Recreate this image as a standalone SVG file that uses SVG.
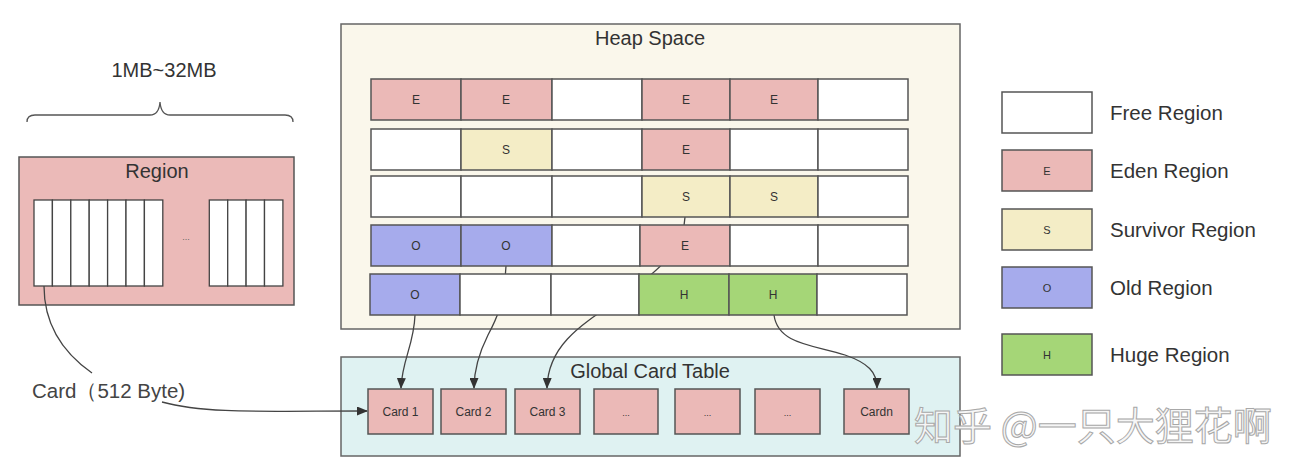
<svg xmlns="http://www.w3.org/2000/svg" width="1298" height="464" viewBox="0 0 1298 464">
<style>
text{font-family:"Liberation Sans",Arial,sans-serif;fill:#333}
.ttl{font-size:20px;text-anchor:middle}
.lg{font-size:20.5px}
.cl{font-size:12px;text-anchor:middle}
.cell{stroke:#555;stroke-width:1.5}
.fr{fill:#fff}.e{fill:#ebb9b7}.s{fill:#f4edc6}.o{fill:#a6abec}.h{fill:#a5d677}
.strip{fill:#fff;stroke:#444;stroke-width:1.3}
.con{fill:none;stroke:#444;stroke-width:1.3}
.card{fill:#ebb9b7;stroke:#555;stroke-width:1.5}
.wm{font-family:"Noto Sans CJK SC","Liberation Sans",sans-serif;font-size:39px;fill:#f6f6f6;stroke:#a8a8a8;stroke-width:1}
</style>
<defs>
<marker id="arr" markerUnits="userSpaceOnUse" markerWidth="11" markerHeight="9" refX="10" refY="4.5" orient="auto">
<path d="M0,0 L11,4.5 L0,9 Z" fill="#333"/>
</marker>
</defs>
<rect width="1298" height="464" fill="#fff"/>

<g id="size-label">
<text x="164" y="77" style="font-size:20px;text-anchor:middle">1MB~32MB</text>
<path d="M27,122 Q27,115 35,115 L150,115 Q159,115 160,102 Q161,115 170,115 L285,115 Q293,115 293,122" fill="none" stroke="#555" stroke-width="1.3"/>
</g>

<g id="region">
<rect x="19" y="157" width="275" height="148" fill="#ebbab8" stroke="#555" stroke-width="1.5"/>
<text x="157" y="178" class="ttl">Region</text>
<rect x="34" y="200" width="18.4" height="86" class="strip"/>
<rect x="52.4" y="200" width="18.4" height="86" class="strip"/>
<rect x="70.8" y="200" width="18.4" height="86" class="strip"/>
<rect x="89.2" y="200" width="18.4" height="86" class="strip"/>
<rect x="107.6" y="200" width="18.4" height="86" class="strip"/>
<rect x="126" y="200" width="18.4" height="86" class="strip"/>
<rect x="144.4" y="200" width="18.4" height="86" class="strip"/>
<text x="186" y="240" style="font-size:9px;text-anchor:middle;fill:#666">...</text>
<rect x="209.3" y="200" width="18.4" height="86" class="strip"/>
<rect x="227.7" y="200" width="18.4" height="86" class="strip"/>
<rect x="246.1" y="200" width="18.4" height="86" class="strip"/>
<rect x="264.5" y="200" width="18.4" height="86" class="strip"/>
</g>

<g id="card-label">
<text x="32" y="398" style="font-size:20.5px;fill:#444">Card（512 Byte)</text>
</g>

<g id="heap-space">
<rect x="341" y="24" width="619" height="305" fill="#faf7eb" stroke="#666" stroke-width="1.5"/>
<text x="650" y="45" class="ttl">Heap Space</text>
</g>

<g id="global-card-table">
<rect x="341" y="357" width="619" height="99" fill="#dff2f2" stroke="#666" stroke-width="1.5"/>
<text x="650" y="378" class="ttl">Global Card Table</text>
</g>

<g id="connectors">
<path class="con" d="M44,286 C44,325 62,352 92,373"/>
<path class="con" d="M162,402 C205,414 265,411 367,411" marker-end="url(#arr)"/>
<path class="con" d="M415,315 C414,345 402,360 401,388" marker-end="url(#arr)"/>
<path class="con" d="M506,266 C504,305 496,320 488,335 C478,355 474,370 474,388" marker-end="url(#arr)"/>
<path class="con" d="M685,217 C684,250 660,268 630,292 C590,320 548,340 547,388" marker-end="url(#arr)"/>
<path class="con" d="M774,315 C778,345 815,345 845,355 C868,363 877,372 877,388" marker-end="url(#arr)"/>
</g>

<g id="heap-regions">
<g id="row1">
<rect x="371" y="79" width="90" height="41" class="cell e"/><text x="416" y="104" class="cl">E</text>
<rect x="461" y="79" width="91" height="41" class="cell e"/><text x="506" y="104" class="cl">E</text>
<rect x="552" y="79" width="90" height="41" class="cell fr"/>
<rect x="642" y="79" width="88" height="41" class="cell e"/><text x="686" y="104" class="cl">E</text>
<rect x="730" y="79" width="88" height="41" class="cell e"/><text x="774" y="104" class="cl">E</text>
<rect x="818" y="79" width="90" height="41" class="cell fr"/>
</g>
<g id="row2">
<rect x="371" y="129" width="90" height="41" class="cell fr"/>
<rect x="461" y="129" width="91" height="41" class="cell s"/><text x="506" y="154" class="cl">S</text>
<rect x="552" y="129" width="90" height="41" class="cell fr"/>
<rect x="642" y="129" width="88" height="41" class="cell e"/><text x="686" y="154" class="cl">E</text>
<rect x="730" y="129" width="88" height="41" class="cell fr"/>
<rect x="818" y="129" width="90" height="41" class="cell fr"/>
</g>
<g id="row3">
<rect x="371" y="176" width="90" height="41" class="cell fr"/>
<rect x="461" y="176" width="91" height="41" class="cell fr"/>
<rect x="552" y="176" width="90" height="41" class="cell fr"/>
<rect x="642" y="176" width="88" height="41" class="cell s"/><text x="686" y="201" class="cl">S</text>
<rect x="730" y="176" width="88" height="41" class="cell s"/><text x="774" y="201" class="cl">S</text>
<rect x="818" y="176" width="90" height="41" class="cell fr"/>
</g>
<g id="row4">
<rect x="371" y="225" width="90" height="41" class="cell o"/><text x="416" y="250" class="cl">O</text>
<rect x="461" y="225" width="91" height="41" class="cell o"/><text x="506" y="250" class="cl">O</text>
<rect x="552" y="225" width="88" height="41" class="cell fr"/>
<rect x="640" y="225" width="90" height="41" class="cell e"/><text x="685" y="250" class="cl">E</text>
<rect x="730" y="225" width="88" height="41" class="cell fr"/>
<rect x="818" y="225" width="90" height="41" class="cell fr"/>
</g>
<g id="row5">
<rect x="370" y="274" width="90" height="41" class="cell o"/><text x="415" y="299" class="cl">O</text>
<rect x="460" y="274" width="91" height="41" class="cell fr"/>
<rect x="551" y="274" width="88" height="41" class="cell fr"/>
<rect x="639" y="274" width="90" height="41" class="cell h"/><text x="684" y="299" class="cl">H</text>
<rect x="729" y="274" width="88" height="41" class="cell h"/><text x="773" y="299" class="cl">H</text>
<rect x="817" y="274" width="90" height="41" class="cell fr"/>
</g>
</g>

<g id="cards">
<g id="card1"><rect x="368" y="389" width="65" height="45" class="card"/><text x="400.5" y="416" class="cl">Card 1</text></g>
<g id="card2"><rect x="441" y="389" width="65" height="45" class="card"/><text x="473.5" y="416" class="cl">Card 2</text></g>
<g id="card3"><rect x="515" y="389" width="65" height="45" class="card"/><text x="547.5" y="416" class="cl">Card 3</text></g>
<g id="card4"><rect x="594" y="389" width="64" height="45" class="card"/><text x="626" y="416" class="cl" style="font-size:9px">...</text></g>
<g id="card5"><rect x="675" y="389" width="65" height="45" class="card"/><text x="707.5" y="416" class="cl" style="font-size:9px">...</text></g>
<g id="card6"><rect x="755" y="389" width="65" height="45" class="card"/><text x="787.5" y="416" class="cl" style="font-size:9px">...</text></g>
<g id="cardn"><rect x="844" y="389" width="65" height="45" class="card"/><text x="876.5" y="416" class="cl">Cardn</text></g>
</g>

<g id="legend">
<g id="lg-free"><rect x="1002" y="92" width="90" height="41" class="cell fr"/><text x="1110" y="120" class="lg">Free Region</text></g>
<g id="lg-eden"><rect x="1002" y="150" width="90" height="41" class="cell e"/><text x="1047" y="175" class="cl" style="font-size:11px">E</text><text x="1110" y="178" class="lg">Eden Region</text></g>
<g id="lg-surv"><rect x="1002" y="209" width="90" height="41" class="cell s"/><text x="1047" y="234" class="cl" style="font-size:11px">S</text><text x="1110" y="237" class="lg">Survivor Region</text></g>
<g id="lg-old"><rect x="1002" y="267" width="90" height="41" class="cell o"/><text x="1047" y="292" class="cl" style="font-size:11px">O</text><text x="1110" y="295" class="lg">Old Region</text></g>
<g id="lg-huge"><rect x="1002" y="334" width="90" height="41" class="cell h"/><text x="1047" y="359" class="cl" style="font-size:11px">H</text><text x="1110" y="362" class="lg">Huge Region</text></g>
</g>

<g id="watermark">
<text x="914" y="440" class="wm">知乎 @一只大狸花啊</text>
</g>
</svg>
